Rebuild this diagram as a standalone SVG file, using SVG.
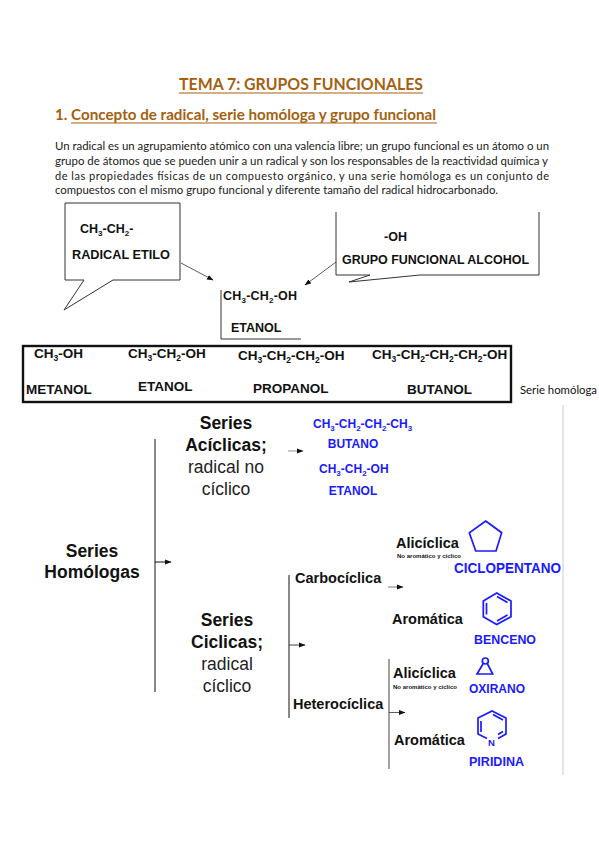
<svg xmlns="http://www.w3.org/2000/svg" width="599" height="848" viewBox="0 0 599 848">
<style>
text{font-family:"Liberation Sans",Arial,sans-serif;fill:#111}
.h{font-family:Lato,"Liberation Sans",sans-serif;font-weight:700;fill:#a5600f}
.b{font-family:Lato,"Liberation Sans",sans-serif;font-size:11px;fill:#1a1a1a}
.f{font-weight:700;font-size:12.5px}
.r{font-weight:700;font-size:13.5px}
.big{font-weight:700;font-size:17.5px;text-anchor:middle}
.reg{font-size:17.5px;text-anchor:middle;fill:#222}
.m{font-weight:700;font-size:14.5px}
.bl{font-weight:700;font-size:12px;fill:#1a1aff}
.s{font-weight:700;font-size:5px}
.out{fill:none;stroke:#333;stroke-width:1}
.c{fill:none;stroke:#111;stroke-width:1}
.ring{fill:none;stroke:#1a1aff;stroke-width:1.7}
</style>
<defs>
<marker id="a" markerWidth="7" markerHeight="6" refX="6" refY="3" orient="auto" markerUnits="userSpaceOnUse"><path d="M0 0.5L6.5 3L0 5.500z" fill="#111"/></marker>
</defs>
<g id="title"><text class="h" x="179" y="90" font-size="17" textLength="244" lengthAdjust="spacingAndGlyphs">TEMA 7: GRUPOS FUNCIONALES</text><path d="M179 93H423" stroke="#a5600f" stroke-width="1.2"/></g>
<g id="heading"><text class="h" x="55" y="120" font-size="15.5" textLength="381" lengthAdjust="spacingAndGlyphs">1. Concepto de radical, serie homóloga y grupo funcional</text><path d="M71 123H437" stroke="#a5600f" stroke-width="1.2"/></g>
<g id="body">
<text class="b" x="55" y="150" textLength="494" lengthAdjust="spacingAndGlyphs">Un radical es un agrupamiento atómico con una valencia libre; un grupo funcional es un átomo o un</text>
<text class="b" x="55" y="165" textLength="493" lengthAdjust="spacingAndGlyphs">grupo de átomos que se pueden unir a un radical y son los responsables de la reactividad química y</text>
<text class="b" x="55" y="180" textLength="494" lengthAdjust="spacing">de las propiedades físicas de un compuesto orgánico, y una serie homóloga es un conjunto de</text>
<text class="b" x="55" y="194" textLength="443" lengthAdjust="spacingAndGlyphs">compuestos con el mismo grupo funcional y diferente tamaño del radical hidrocarbonado.</text>
</g>
<g id="callout-radical"><path class="out" d="M65 203H180V280H113L64 310L84 280H65Z"/>
<text class="f" x="80" y="233">CH<tspan font-size="8" dy="3">3</tspan><tspan dy="-3">-CH</tspan><tspan font-size="8" dy="3">2</tspan><tspan dy="-3">-</tspan></text>
<text class="f" x="72" y="259" textLength="98" lengthAdjust="spacingAndGlyphs">RADICAL ETILO</text></g>
<g id="callout-grupo"><path class="out" d="M336 212V275H370L349 282L420 275H539V212"/>
<text class="f" x="384" y="241">-OH</text>
<text class="f" x="342" y="264" textLength="187" lengthAdjust="spacingAndGlyphs">GRUPO FUNCIONAL ALCOHOL</text></g>
<g id="etanol"><path class="out" d="M221 290V339H301"/>
<text class="f" x="223" y="300" textLength="74">CH<tspan font-size="8" dy="3">3</tspan><tspan dy="-3">-CH</tspan><tspan font-size="8" dy="3">2</tspan><tspan dy="-3">-OH</tspan></text>
<text class="f" x="231" y="332">ETANOL</text></g>
<g id="serie-box"><rect x="23" y="346" width="488" height="56" fill="none" stroke="#111" stroke-width="2.4"/>
<text class="r" x="34" y="358">CH<tspan font-size="8.500" dy="3">3</tspan><tspan dy="-3">-OH</tspan></text>
<text class="r" x="128" y="358">CH<tspan font-size="8.500" dy="3">3</tspan><tspan dy="-3">-CH</tspan><tspan font-size="8.500" dy="3">2</tspan><tspan dy="-3">-OH</tspan></text>
<text class="r" x="238" y="360">CH<tspan font-size="8.500" dy="3">3</tspan><tspan dy="-3">-CH</tspan><tspan font-size="8.500" dy="3">2</tspan><tspan dy="-3">-CH</tspan><tspan font-size="8.500" dy="3">2</tspan><tspan dy="-3">-OH</tspan></text>
<text class="r" x="372" y="359">CH<tspan font-size="8.500" dy="3">3</tspan><tspan dy="-3">-CH</tspan><tspan font-size="8.500" dy="3">2</tspan><tspan dy="-3">-CH</tspan><tspan font-size="8.500" dy="3">2</tspan><tspan dy="-3">-CH</tspan><tspan font-size="8.500" dy="3">2</tspan><tspan dy="-3">-OH</tspan></text>
<text class="r" x="26" y="394">METANOL</text><text class="r" x="138" y="391">ETANOL</text><text class="r" x="253" y="393">PROPANOL</text><text class="r" x="407" y="394">BUTANOL</text></g>
<g id="serie-label"><text x="520" y="394" style="font-family:Lato,sans-serif" font-size="11" textLength="77" lengthAdjust="spacingAndGlyphs">Serie homóloga</text></g>
<g id="series-homologas"><text class="big" x="92" y="557">Series</text><text class="big" x="92" y="578">Homólogas</text></g>
<g id="series-aciclicas"><text class="big" x="226" y="429">Series</text><text class="big" x="226" y="451">Acíclicas;</text><text class="reg" x="226" y="473">radical no</text><text class="reg" x="226" y="495">cíclico</text></g>
<g id="series-ciclicas"><text class="big" x="227" y="626">Series</text><text class="big" x="227" y="648">Ciclicas;</text><text class="reg" x="227" y="670">radical</text><text class="reg" x="227" y="692">cíclico</text></g>
<g id="acyclic-examples">
<text class="bl" x="313" y="428">CH<tspan font-size="8" dy="3">3</tspan><tspan dy="-3">-CH</tspan><tspan font-size="8" dy="3">2</tspan><tspan dy="-3">-CH</tspan><tspan font-size="8" dy="3">2</tspan><tspan dy="-3">-CH</tspan><tspan font-size="8" dy="3">3</tspan></text>
<text class="bl" x="353" y="448" text-anchor="middle">BUTANO</text>
<text class="bl" x="319" y="473">CH<tspan font-size="8" dy="3">3</tspan><tspan dy="-3">-CH</tspan><tspan font-size="8" dy="3">2</tspan><tspan dy="-3">-OH</tspan></text>
<text class="bl" x="353" y="495" text-anchor="middle">ETANOL</text></g>
<g id="ciclopentano"><text class="m" x="396" y="548">Alicíclica</text><text class="s" x="397" y="558" textLength="64" lengthAdjust="spacingAndGlyphs">No aromático y cíclico</text>
<path class="ring" d="M485.700 521L501.700 532.700L496 551H475.700L469.300 532.700Z"/>
<text class="bl" x="454" y="573" style="font-size:14px" textLength="107" lengthAdjust="spacingAndGlyphs">CICLOPENTANO</text></g>
<g id="carbociclica"><text class="m" x="295" y="583">Carbocíclica</text></g>
<g id="benceno"><text class="m" x="392" y="624">Aromática</text>
<path class="ring" d="M496.700 593L511 601V616.700L496.700 624.500L483.300 616.700V601ZM486.500 603V614.500M497 596.500L507.500 602.500M497 621L507.500 615"/>
<text class="bl" x="474" y="644" textLength="62" lengthAdjust="spacingAndGlyphs">BENCENO</text></g>
<g id="heterociclica"><text class="m" x="293" y="709">Heterocíclica</text></g>
<g id="oxirano"><text class="m" x="393" y="678">Alicíclica</text><text class="s" x="393" y="689" textLength="64" lengthAdjust="spacingAndGlyphs">No aromático y cíclico</text>
<path class="ring" d="M483 664L477 674H492.700L487.500 664"/><circle class="ring" cx="485.300" cy="661" r="3"/>
<text class="bl" x="469" y="693" textLength="56" lengthAdjust="spacingAndGlyphs">OXIRANO</text></g>
<g id="piridina"><text class="m" x="394" y="745">Aromática</text>
<path class="ring" d="M487 738.500L478 734V718L492 711L506 718V734L498 738.500M481 721V732M493 714.500L503 720M498 734.500L503 731.500"/>
<text x="488" y="746" style="font-weight:700;font-size:9.500px;fill:#1a1aff">N</text>
<text class="bl" x="469" y="766" textLength="55" lengthAdjust="spacingAndGlyphs">PIRIDINA</text></g>
<g id="connectors">
<path d="M181 263L213 280" stroke="#333" fill="none" stroke-width="0.8" marker-end="url(#a)"/>
<path d="M336 262L305 285" stroke="#333" fill="none" stroke-width="0.8" marker-end="url(#a)"/>
<path class="c" d="M155 439V692"/>
<path class="c" d="M155 562H171" marker-end="url(#a)"/>
<path d="M288 451H303" stroke="#777" fill="none" stroke-width="0.8" marker-end="url(#a)"/>
<path class="c" d="M289 575V718"/>
<path d="M289 645H305" stroke="#444" fill="none" marker-end="url(#a)"/>
<path d="M388 587H403" stroke="#555" fill="none" stroke-width="0.8" marker-end="url(#a)"/>
<path d="M389 659V769" stroke="#444" fill="none"/>
<path d="M389 712.500H405" stroke="#333" fill="none" stroke-width="0.8" marker-end="url(#a)"/>
<path d="M563 405V775" stroke="#ccc" fill="none" stroke-width="1"/>
</g>
</svg>
